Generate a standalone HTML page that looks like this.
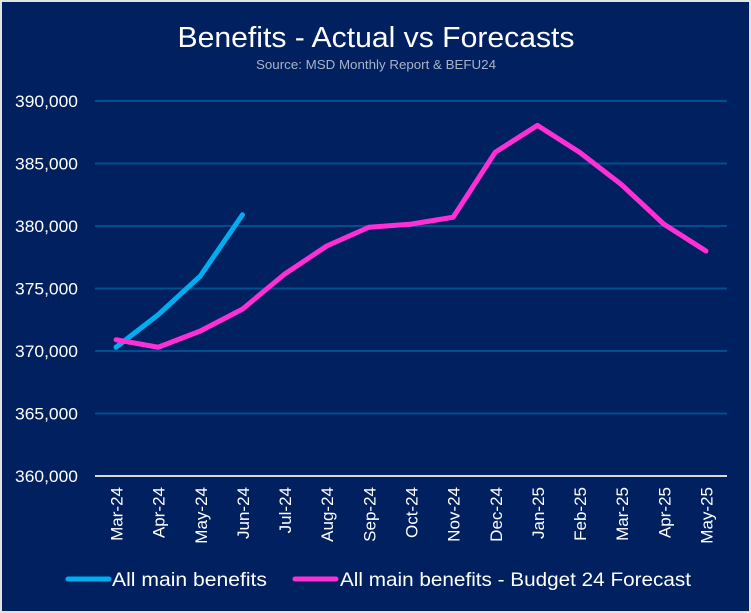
<!DOCTYPE html>
<html lang="en">
<head>
<meta charset="utf-8">
<title>Benefits - Actual vs Forecasts</title>
<style>
html,body{margin:0;padding:0;width:751px;height:613px;overflow:hidden;background:#e3e3e3}
svg{display:block;font-family:"Liberation Sans",sans-serif}
</style>
</head>
<body>
<svg id="chart" xmlns="http://www.w3.org/2000/svg" width="751" height="613" viewBox="0 0 751 613">
  <rect x="0" y="0" width="751" height="613" fill="#e3e3e3"/>
  <rect x="2" y="2" width="747" height="609" fill="#00205f"/>
  <text x="376" y="47" text-anchor="middle" font-size="29" fill="#ffffff" textLength="397" lengthAdjust="spacingAndGlyphs">Benefits - Actual vs Forecasts</text>
  <text x="376" y="69" text-anchor="middle" font-size="12.5" fill="#a9b3c6" textLength="240" lengthAdjust="spacingAndGlyphs">Source: MSD Monthly Report &amp; BEFU24</text>
  <g id="grid"></g>
  <g id="y-labels"></g>
  <g id="x-labels"></g>
  <g id="series"></g>
  <g>
    <line x1="68" y1="579" x2="109" y2="579" stroke="#00aeef" stroke-width="5" stroke-linecap="round"/>
    <text x="112" y="586" font-size="19.5" fill="#ffffff" textLength="155" lengthAdjust="spacingAndGlyphs">All main benefits</text>
    <line x1="295" y1="579" x2="336" y2="579" stroke="#ff2fd6" stroke-width="5" stroke-linecap="round"/>
    <text x="340" y="586" font-size="19.5" fill="#ffffff" textLength="351" lengthAdjust="spacingAndGlyphs">All main benefits - Budget 24 Forecast</text>
  </g>
</svg>
<script>
const categories = ["Mar-24","Apr-24","May-24","Jun-24","Jul-24","Aug-24","Sep-24","Oct-24","Nov-24","Dec-24","Jan-25","Feb-25","Mar-25","Apr-25","May-25"];
const actualValues = [370300,372900,376000,380900];
const forecastValues = [370900,370300,371600,373350,376150,378400,379900,380150,380700,385900,388050,385900,383300,380150,378000];
const yTicks = [360000,365000,370000,375000,380000,385000,390000];

const NS = "http://www.w3.org/2000/svg";
const plotLeft = 95, plotRight = 727, plotTop = 101, plotBottom = 476;
const yMin = 360000, yMax = 390000;
function xScale(i){ return plotLeft + (i + 0.5) * (plotRight - plotLeft) / categories.length; }
function yScale(v){ return plotBottom - (v - yMin) / (yMax - yMin) * (plotBottom - plotTop); }
function make(tag, attrs, parent){
  const el = document.createElementNS(NS, tag);
  for (const k in attrs) el.setAttribute(k, attrs[k]);
  parent.appendChild(el);
  return el;
}
const grid = document.getElementById("grid");
const yLabels = document.getElementById("y-labels");
const xLabels = document.getElementById("x-labels");
const series = document.getElementById("series");

yTicks.forEach(function(t){
  const y = yScale(t);
  const isBase = t === yMin;
  const line = make("line", {x1: plotLeft, x2: plotRight, y1: y, y2: y, stroke: isBase ? "#d9d9d9" : "#004f8f", "stroke-width": 2}, grid);
  
  
  const label = make("text", {x: 78, y: y + 6, "text-anchor": "end", "font-size": 16.5, fill: "#ffffff", textLength: 63, lengthAdjust: "spacingAndGlyphs"}, yLabels);
  
  
  label.textContent = t.toLocaleString("en-US");
});

categories.forEach(function(c, i){
  const x = xScale(i) + 6.5;
  const label = make("text", {x: x, y: 487, "text-anchor": "end", "font-size": 17, fill: "#ffffff", transform: "rotate(-90 " + x + " 487)"}, xLabels);
  
  
  label.textContent = c;
});

function drawLine(values, color, name){
  const pts = values.map(function(v, i){ return xScale(i) + "," + yScale(v); }).join(" ");
  const line = make("polyline", {points: pts, fill: "none", stroke: color, "stroke-width": 5, "stroke-linecap": "round", "stroke-linejoin": "round"}, series);
  
  
}
drawLine(actualValues, "#00aeef", "line-all-main-benefits");
drawLine(forecastValues, "#ff2fd6", "line-budget-24-forecast");
</script>
</body>
</html>
